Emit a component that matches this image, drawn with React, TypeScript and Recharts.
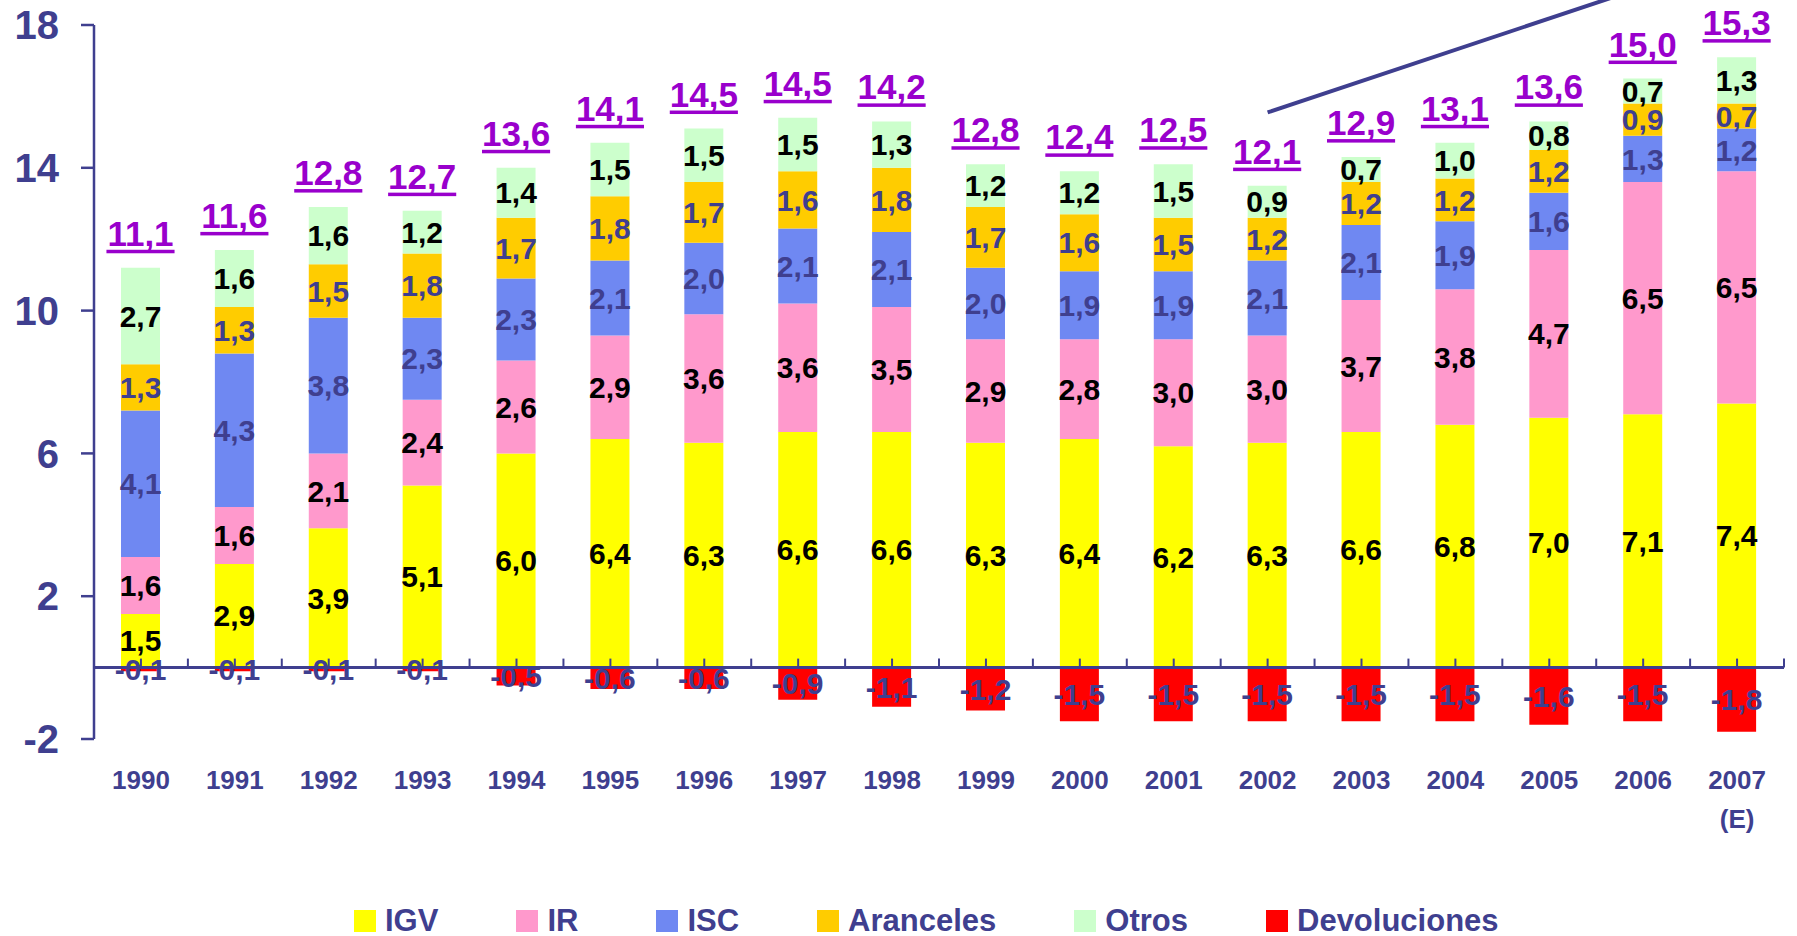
import { Bar, ComposedChart, LabelList, Legend, ReferenceLine, XAxis, YAxis } from "recharts"

const years = ["1990", "1991", "1992", "1993", "1994", "1995", "1996", "1997", "1998", "1999", "2000", "2001", "2002", "2003", "2004", "2005", "2006", "2007"]
const yearLabels = ["1990", "1991", "1992", "1993", "1994", "1995", "1996", "1997", "1998", "1999", "2000", "2001", "2002", "2003", "2004", "2005", "2006", "2007 (E)"]

const igv = [1.5, 2.9, 3.9, 5.1, 6.0, 6.4, 6.3, 6.6, 6.6, 6.3, 6.4, 6.2, 6.3, 6.6, 6.8, 7.0, 7.1, 7.4]
const ir = [1.6, 1.6, 2.1, 2.4, 2.6, 2.9, 3.6, 3.6, 3.5, 2.9, 2.8, 3.0, 3.0, 3.7, 3.8, 4.7, 6.5, 6.5]
const isc = [4.1, 4.3, 3.8, 2.3, 2.3, 2.1, 2.0, 2.1, 2.1, 2.0, 1.9, 1.9, 2.1, 2.1, 1.9, 1.6, 1.3, 1.2]
const aranceles = [1.3, 1.3, 1.5, 1.8, 1.7, 1.8, 1.7, 1.6, 1.8, 1.7, 1.6, 1.5, 1.2, 1.2, 1.2, 1.2, 0.9, 0.7]
const otros = [2.7, 1.6, 1.6, 1.2, 1.4, 1.5, 1.5, 1.5, 1.3, 1.2, 1.2, 1.5, 0.9, 0.7, 1.0, 0.8, 0.7, 1.3]
const devoluciones = [-0.1, -0.1, -0.1, -0.1, -0.5, -0.6, -0.6, -0.9, -1.1, -1.2, -1.5, -1.5, -1.5, -1.5, -1.5, -1.6, -1.5, -1.8]
const totals = [11.1, 11.6, 12.8, 12.7, 13.6, 14.1, 14.5, 14.5, 14.2, 12.8, 12.4, 12.5, 12.1, 12.9, 13.1, 13.6, 15.0, 15.3]

const yTicks = [-2, 2, 6, 10, 14, 18]
// decorative line in the upper right
const trendX = ["2002", "2006"]
const trendY = [15.55, 19.06]

const data = years.map((year, i) => ({
  year,
  igv: igv[i],
  ir: ir[i],
  isc: isc[i],
  aranceles: aranceles[i],
  otros: otros[i],
  devoluciones: devoluciones[i],
  total: totals[i],
}))

const W = 1797
const H = 936
const MARGIN = { top: 25, right: 13, bottom: 137, left: 0 }
const Y_AXIS_W = 94
const X_AXIS_H = 60
const PLOT_H = H - MARGIN.top - MARGIN.bottom - X_AXIS_H
const PLOT_W = W - MARGIN.left - MARGIN.right - Y_AXIS_W
const ZERO_Y = MARGIN.top + (PLOT_H * 18) / 20
const CAT_W = PLOT_W / years.length

const FONT = "'Liberation Sans', Arial, Helvetica, sans-serif"
const NAVY = "#3f3f8f"
const PURPLE = "#9900cc"

const series = [
  { key: "igv", name: "IGV", color: "#ffff00", label: "#000000" },
  { key: "ir", name: "IR", color: "#ff99cc", label: "#000000" },
  { key: "isc", name: "ISC", color: "#6f88f2", label: NAVY },
  { key: "aranceles", name: "Aranceles", color: "#ffcc00", label: NAVY },
  { key: "otros", name: "Otros", color: "#ccffcc", label: "#000000" },
  { key: "devoluciones", name: "Devoluciones", color: "#ff0000", label: NAVY },
]

const fmt = (v: number) => Number(v).toFixed(1).replace(".", ",")

function textWidth(s: string, size: number) {
  let w = 0
  for (const ch of s) w += ch === "," ? 0.278 : 0.556
  return w * size
}

function TotalLabel(props: any) {
  const vb = props.viewBox || props
  const x = vb.x + vb.width / 2
  const top = Math.min(vb.y, vb.y + vb.height)
  const text = fmt(props.value)
  const w = textWidth(text, 35)
  const base = top - 22
  return (
    <g>
      <text x={x} y={base} textAnchor="middle" fill={PURPLE} fontSize={35} fontWeight="bold" fontFamily={FONT}>
        {text}
      </text>
      <rect x={x - w / 2} y={base + 4} width={w} height={3.5} fill={PURPLE} />
    </g>
  )
}

function YearTick(props: any) {
  const { x, y, payload, index } = props
  const i = years.indexOf(payload.value)
  const lines = (yearLabels[i] || payload.value).split(" ")
  const half = CAT_W / 2
  const marks = [x, x - half]
  if (index === years.length - 1) marks.push(x + half)
  return (
    <g>
      {marks.map((mx, k) => (
        <line key={k} x1={mx} x2={mx} y1={ZERO_Y} y2={ZERO_Y - 9} stroke={NAVY} strokeWidth={2} />
      ))}
      <text x={x} y={y} textAnchor="middle" fill={NAVY} fontSize={26} fontWeight="bold" fontFamily={FONT}>
        {lines.map((l: string, k: number) => (
          <tspan key={k} x={x} dy={k === 0 ? "0.71em" : 39}>
            {l}
          </tspan>
        ))}
      </text>
    </g>
  )
}

function LegendContent() {
  return (
    <div style={{ display: "flex", alignItems: "center", gap: 78, fontFamily: FONT }}>
      {series.map((s) => (
        <div key={s.key} style={{ display: "flex", alignItems: "center" }}>
          <div style={{ width: 22, height: 22, background: s.color, marginRight: 9 }} />
          <span style={{ color: NAVY, fontSize: 31, fontWeight: "bold", lineHeight: "36px" }}>{s.name}</span>
        </div>
      ))}
    </div>
  )
}

export default function App() {
  return (
    <div style={{ position: "absolute", left: 0, top: 0, width: W, height: H, background: "#fff" }}>
      <ComposedChart width={W} height={H} data={data} margin={MARGIN} stackOffset="sign" barSize={39}>
        <XAxis
          dataKey="year"
          interval={0}
          height={X_AXIS_H}
          axisLine={false}
          tickLine={false}
          tickSize={0}
          tickMargin={32}
          tick={(p: any) => <YearTick {...p} />}
        />
        <YAxis
          type="number"
          domain={[-2, 18]}
          ticks={yTicks}
          width={Y_AXIS_W}
          tickSize={13}
          tickMargin={22}
          allowDataOverflow
          axisLine={{ stroke: NAVY, strokeWidth: 2.5 }}
          tickLine={{ stroke: NAVY, strokeWidth: 2.5 }}
          tick={{ fill: NAVY, fontSize: 40, fontWeight: "bold", fontFamily: FONT }}
        />
        <Legend
          layout="horizontal"
          verticalAlign="middle"
          align="center"
          content={() => <LegendContent />}
          wrapperStyle={{ left: 354, top: 903, width: "auto", height: 36 }}
        />
        {series.map((s) => (
          <Bar key={s.key} dataKey={s.key} name={s.name} stackId="a" fill={s.color} isAnimationActive={false}>
            <LabelList
              dataKey={s.key}
              position="center"
              formatter={(v: any) => fmt(v)}
              fill={s.label}
              fontSize={30}
              fontWeight="bold"
              fontFamily={FONT}
            />
            {s.key === "otros" && <LabelList dataKey="total" content={(p: any) => <TotalLabel {...p} />} />}
          </Bar>
        ))}
        <ReferenceLine y={0} stroke={NAVY} strokeWidth={3} />
        <ReferenceLine
          segment={[
            { x: trendX[0], y: trendY[0] },
            { x: trendX[1], y: trendY[1] },
          ]}
          stroke={NAVY}
          strokeWidth={4}
          ifOverflow="visible"
        />
      </ComposedChart>
    </div>
  )
}
